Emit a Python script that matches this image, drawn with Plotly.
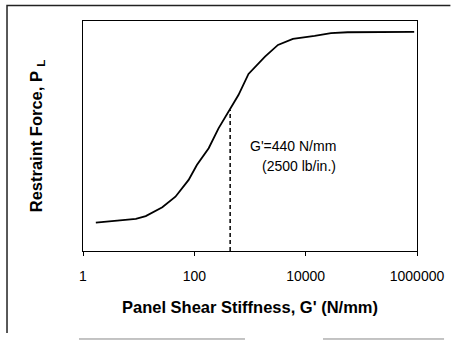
import plotly.graph_objects as go

# Data
g_values = [1.7, 5.9, 8.9, 13.4, 26.6, 45.8, 79, 111, 181, 272, 437, 620, 940,
            1860, 3180, 5900, 14500, 28500, 56700, 890000]
force = [0.123, 0.135, 0.140, 0.152, 0.190, 0.236, 0.309, 0.374, 0.447, 0.533,
         0.613, 0.678, 0.770, 0.845, 0.896, 0.922, 0.935, 0.947, 0.951, 0.953]
g_mark = 440
force_mark = 0.613
tick_vals = [1, 100, 10000, 1000000]
tick_text = ["1", "100", "10000", "1000000"]

FONT = "Arial, Liberation Sans, sans-serif"

fig = go.Figure()
fig.add_trace(go.Scatter(x=g_values, y=force, mode="lines",
                         line=dict(color="black", width=1.8), showlegend=False,
                         hoverinfo="skip"))
fig.add_trace(go.Scatter(x=[g_mark, g_mark], y=[0, force_mark], mode="lines",
                         line=dict(color="black", width=1.5, dash="4px,3px"),
                         showlegend=False, hoverinfo="skip"))

fig.update_layout(
    width=452, height=340,
    margin=dict(l=83, r=35, t=21, b=89),
    paper_bgcolor="white", plot_bgcolor="white",
    font=dict(family=FONT, color="black", size=15),
    xaxis=dict(type="log", range=[0, 6], tickvals=tick_vals, ticktext=tick_text,
               ticks="outside", ticklen=4, tickwidth=1, tickcolor="black",
               showline=True, linecolor="black", linewidth=1, mirror=True,
               showgrid=False, zeroline=False, ticklabelstandoff=8,
               automargin=False,
               tickfont=dict(size=14, family=FONT),
               title=dict(text="<b>Panel Shear Stiffness, G' (N/mm)</b>",
                          font=dict(size=16.5, family=FONT), standoff=18)),
    yaxis=dict(range=[0, 1], showticklabels=False, ticks="",
               showline=True, linecolor="black", linewidth=1, mirror=True,
               showgrid=False, zeroline=False, automargin=False,
               title=dict(text="<b>Restraint Force, P <sub>L</sub></b>",
                          font=dict(size=16.5, family=FONT), standoff=35)),
)

fig.add_annotation(x=2.96, y=0.458, xref="x", yref="y", text="G'=440 N/mm",
                   showarrow=False, xanchor="left", yanchor="middle",
                   font=dict(size=14, family=FONT))
fig.add_annotation(x=3.18, y=0.371, xref="x", yref="y", text="(2500 lb/in.)",
                   showarrow=False, xanchor="left", yanchor="middle",
                   font=dict(size=14, family=FONT))

# outer scanned frame (top and left edges)
fig.add_shape(type="path", xref="paper", yref="paper",
              path="M 1.1,1.067 L -0.2275,1.067 L -0.2275,-0.3565",
              line=dict(color="#222", width=1.5), layer="above")
fig.add_shape(type="line", xref="paper", yref="paper", x0=-0.012, x1=0.485,
              y0=-0.3826, y1=-0.3826, line=dict(color="#888", width=1))
fig.add_shape(type="line", xref="paper", yref="paper", x0=0.7186, x1=1.081,
              y0=-0.3826, y1=-0.3826, line=dict(color="#888", width=1))

fig.write_html("out.html", config={"displayModeBar": False},
               post_script="document.body.style.margin='0';document.body.style.overflow='hidden';")
